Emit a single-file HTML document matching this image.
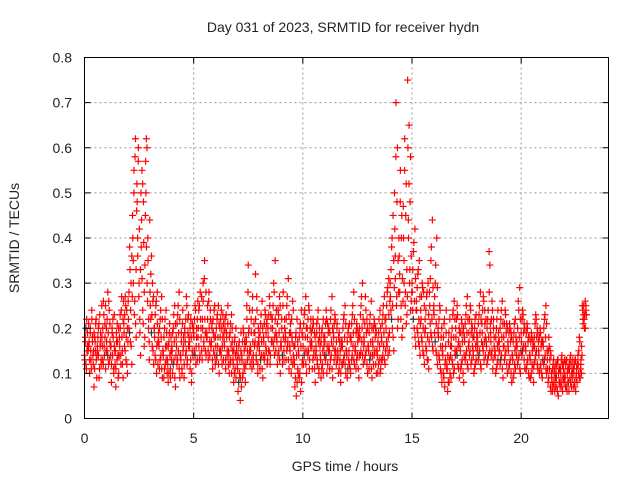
<!DOCTYPE html>
<html><head><meta charset="utf-8"><style>
body{margin:0;background:#fff}
svg text{font-family:"Liberation Sans",sans-serif;fill:#222}
</style></head><body>
<svg width="640" height="480" xmlns="http://www.w3.org/2000/svg">
<text x="343" y="32" font-size="14" text-anchor="middle">Day 031 of 2023, SRMTID for receiver hydn</text>
<text transform="translate(19,238) rotate(-90)" font-size="14" text-anchor="middle">SRMTID / TECUs</text>
<text x="345" y="471" font-size="14" text-anchor="middle">GPS time / hours</text>
<g id="grid"></g>
<g id="marks"></g>
<rect x="84.5" y="57.5" width="524" height="361" fill="none" stroke="#000"/>
<g id="ticks"></g>
</svg>
<script>
const xTicks=[0,5,10,15,20];
const yTicks=[0,0.1,0.2,0.3,0.4,0.5,0.6,0.7,0.8];
const yTickLabels=["0","0.1","0.2","0.3","0.4","0.5","0.6","0.7","0.8"];
const binStart=0, binStep=0.2;
const binValues=[
"14 18 12 22 16 15","16 10 20 13 24 17","12 07 18 15 22 14","15 20 09 23 17 12","18 13 26 16 21 11",
"20 15 28 12 24 17","14 08 19 22 11 16","12 07 17 21 14 10","18 23 12 27 15 09","21 16 27 13 24 10",
"26 20 38 17 30 12","45 35 55 26 62 18","52 40 60 30 22 14","38 55 24 48 16 34","57 62 30 40 20 13",
"28 22 36 16 26 12","20 14 25 10 28 17","17 11 22 14 27 09","15 09 20 12 24 16","13 08 17 21 11 15",
"16 10 20 13 25 07","18 12 23 15 28 09","14 19 10 24 16 12","19 14 27 12 22 16","17 11 22 08 15 20",
"20 15 25 12 18 22","18 24 13 28 20 15","22 30 16 35 19 14","19 25 13 28 17 22","16 21 11 19 24 14",
"18 13 22 16 25 10","20 15 24 12 18 21","17 22 11 19 14 25","15 10 19 13 23 17","13 08 17 11 20 15",
"12 06 16 10 04 19","14 09 20 12 17 08","18 25 13 34 20 15","16 22 11 27 14 19","19 32 13 24 10 17",
"16 11 21 14 26 09","18 13 24 16 21 12","20 15 27 12 23 17","22 17 30 14 35 19","18 12 24 15 27 10",
"17 22 12 28 15 20","19 13 25 16 31 11","16 21 10 18 26 14","13 07 18 05 22 11","15 09 20 06 24 12",
"18 12 23 15 27 10","20 14 25 11 17 22","17 11 22 14 19 08","16 21 12 24 10 18","14 09 19 12 22 16",
"18 13 24 10 21 15","16 11 22 14 27 09","19 13 23 15 12 21","15 10 19 13 08 17","17 12 22 14 25 10",
"15 09 19 13 21 11","18 13 23 16 28 12","16 11 21 14 19 09","20 14 25 17 30 12","18 13 27 15 22 10",
"16 11 21 14 26 09","17 12 22 15 20 10","15 10 19 13 24 11","18 13 23 16 27 12","22 17 28 14 31 19",
"30 24 38 20 45 15","50 36 70 27 60 22","40 32 55 25 45 20","47 35 62 28 52 23","75 44 65 33 58 26",
"30 24 37 20 42 16","26 20 32 17 35 14","24 18 30 15 28 12","22 16 27 13 30 11","28 21 35 18 44 15",
"25 19 30 15 40 12","20 14 25 11 18 08","16 10 21 07 13 24","12 06 17 08 22 14","18 13 23 10 26 15",
"20 15 25 12 17 09","16 11 22 13 19 08","18 13 23 15 27 11","19 14 25 12 21 16","15 10 20 12 23 17",
"18 13 23 15 28 11","21 16 27 13 24 18","17 12 22 14 37 34","19 14 26 11 22 16","15 10 20 12 24 17",
"17 12 22 14 26 09","18 13 24 15 21 10","16 11 21 13 19 08","14 09 19 12 22 16","17 12 26 14 29 10",
"19 14 24 16 21 11","16 11 21 13 18 09","14 09 19 12 17 08","18 13 23 15 20 11","15 10 20 12 17 09",
"17 12 22 14 25 10","13 08 18 11 15 06","09 06 12 08 11 07","10 07 13 05 11 08","11 08 14 06 12 09",
"10 07 13 06 11 08","12 09 14 07 10 11","11 08 13 06 10 12","14 10 18 09 12 16","25 22 23 20 26 24"
];
const binValues2=[
"13 17 20 11 15 19 16 21","17 13 19 15 11 22 18 14","15 19 11 17 21 13 09 16","18 14 21 11 16 19 13 25","16 20 12 23 14 18 25 15",
"17 22 14 19 26 13 21 16","16 12 20 14 18 10 23 15","15 11 19 13 17 09 20 14","16 20 14 24 18 12 22 26","19 23 15 25 18 12 20 17",
"22 28 19 33 24 16 36 27","40 30 50 23 58 21 33 46","48 36 57 27 42 19 33 50","44 31 52 21 39 28 18 45","50 38 60 26 35 22 17 44",
"25 32 19 23 30 15 27 20","18 23 13 26 16 21 12 19","16 20 13 24 18 11 22 15","14 18 11 22 16 13 19 10","12 16 10 19 14 09 18 13",
"15 19 12 23 17 09 21 14","16 21 13 25 19 11 22 14","13 17 11 21 15 18 09 20","17 22 15 25 13 19 23 18","16 20 13 18 10 21 14 19",
"18 22 14 24 16 20 13 26","20 16 25 14 22 18 27 13","20 26 17 31 22 15 28 18","18 22 15 26 20 14 24 16","17 20 13 22 15 18 25 12",
"16 20 14 23 18 12 21 15","18 22 14 20 16 23 13 19","16 20 13 23 18 15 21 12","14 18 12 21 16 10 20 15","12 15 10 18 14 09 16 13",
"11 14 08 17 13 09 15 07","13 17 10 19 15 11 16 12","17 22 15 28 19 14 24 12","15 19 13 24 17 12 21 16","17 22 14 27 16 12 20 18",
"15 19 13 23 17 11 20 14","17 21 14 23 19 15 22 13","18 23 15 25 14 20 17 22","20 25 16 28 18 22 15 24","17 21 14 23 19 13 25 16",
"16 20 14 25 18 13 22 17","18 22 15 27 17 13 23 19","15 19 13 22 17 12 24 16","12 16 09 19 14 08 17 10","14 18 10 21 16 08 19 13",
"16 21 14 24 18 12 20 15","18 22 15 24 13 20 16 19","16 20 13 21 15 11 18 14","15 19 13 22 17 11 20 16","13 17 11 20 15 10 18 14",
"17 21 14 22 16 12 19 20","15 19 13 24 17 11 20 16","18 21 15 22 14 17 20 13","14 18 11 17 15 10 16 12","16 20 13 23 18 12 21 15",
"14 17 11 20 15 12 18 10","17 21 14 25 19 13 22 15","15 19 13 20 17 11 18 14","18 23 15 27 20 14 22 16","17 21 14 24 19 12 20 16",
"15 19 13 23 17 11 20 14","16 20 14 21 18 12 19 15","14 17 12 22 16 10 20 13","17 21 14 25 19 13 22 15","20 25 16 29 18 23 15 26",
"27 33 22 40 25 18 35 29","42 31 58 25 48 20 35 28","36 28 48 22 40 18 31 26","40 30 55 25 45 21 33 27","60 40 52 30 48 24 36 28",
"28 33 22 39 26 18 31 24","24 29 19 33 22 16 27 21","22 27 17 29 20 14 25 19","20 24 15 28 18 13 23 17","25 31 19 38 22 16 29 24",
"23 27 17 34 21 14 29 19","18 22 13 24 16 10 20 15","14 18 09 22 12 16 19 11","11 14 08 19 13 10 16 09","16 20 12 24 18 11 22 14",
"18 22 14 23 16 11 20 19","15 19 12 21 17 10 20 14","17 21 14 25 19 12 22 16","17 22 15 24 19 13 20 18","14 18 11 22 16 13 19 15",
"16 21 14 25 19 12 22 17","19 24 15 26 17 21 14 22","16 20 13 24 18 28 15 21","17 22 15 24 13 20 18 14","14 18 11 22 16 13 19 15",
"15 20 13 24 18 11 21 16","16 21 14 23 19 12 20 17","15 19 12 20 17 10 18 14","13 17 10 21 15 11 18 14","16 20 13 24 18 11 22 15",
"17 22 15 23 19 13 20 16","15 19 12 20 17 10 18 14","13 17 10 18 15 11 16 12","16 21 14 22 18 12 19 17","14 18 11 19 16 10 17 13",
"16 20 13 23 18 11 21 15","11 15 09 16 13 07 14 10","08 11 07 13 10 06 09 12","09 12 06 13 10 08 11 07","10 13 07 12 09 11 08 13",
"09 12 07 13 10 08 11 06","11 13 08 12 10 09 13 07","10 12 07 13 09 11 08 12","12 15 09 17 11 13 10 14","24 21 25 22 23 20 25 23"
];
const X0=84.5,X1=608.5,Y0=418.5,Y1=57.5;
const xs=h=>X0+(h/24)*(X1-X0);
const ys=v=>Y0-(v/0.8)*(Y0-Y1);
const NS="http://www.w3.org/2000/svg";
const grid=document.getElementById('grid'),ticks=document.getElementById('ticks'),marks=document.getElementById('marks');
function mk(tag,at,parent){const e=document.createElementNS(NS,tag);for(const k in at)e.setAttribute(k,at[k]);parent.appendChild(e);return e;}
xTicks.forEach(t=>{const x=xs(t);
 if(t>0){const g=mk('line',{x1:x,x2:x,y1:Y1,y2:Y0,stroke:'#999','stroke-dasharray':'2,3'},grid);
 
 }
 mk('line',{x1:x,x2:x,y1:Y0,y2:Y0-6,stroke:'#000'},ticks);
 mk('line',{x1:x,x2:x,y1:Y1,y2:Y1+6,stroke:'#000'},ticks);
 const l=mk('text',{x:x,y:443,'font-size':14,'text-anchor':'middle'},ticks);l.textContent=t;
 
 });
yTicks.forEach((t,i)=>{const y=ys(t);
 if(i>0&&i<yTicks.length-1){const g=mk('line',{x1:X0,x2:X1,y1:y,y2:y,stroke:'#999','stroke-dasharray':'2,3'},grid);
 
 }
 mk('line',{x1:X0,x2:X0+6,y1:y,y2:y,stroke:'#000'},ticks);
 mk('line',{x1:X1,x2:X1-6,y1:y,y2:y,stroke:'#000'},ticks);
 const l=mk('text',{x:72,y:y+5,'font-size':14,'text-anchor':'end'},ticks);l.textContent=yTickLabels[i];
 
 });
function drawBins(arr,offset,darkEvery){
 arr.forEach((s,b)=>{const vals=s.split(' ').map(v=>parseInt(v,10)/100);
  vals.forEach((v,j)=>{const h=binStart+b*binStep+(j+offset)*binStep/vals.length;const x=xs(h),y=ys(v);
   const dark=darkEvery&&(j===2&&b%darkEvery===0);
   const p=mk('path',{d:`M${x-3.5},${y}h7M${x},${y-3.5}v7`,stroke:dark?'#333':'#f00','stroke-width':1.2},marks);
   
   });});
}
drawBins(binValues2,0.5,5);
drawBins(binValues,0,0);
</script>
</body></html>
